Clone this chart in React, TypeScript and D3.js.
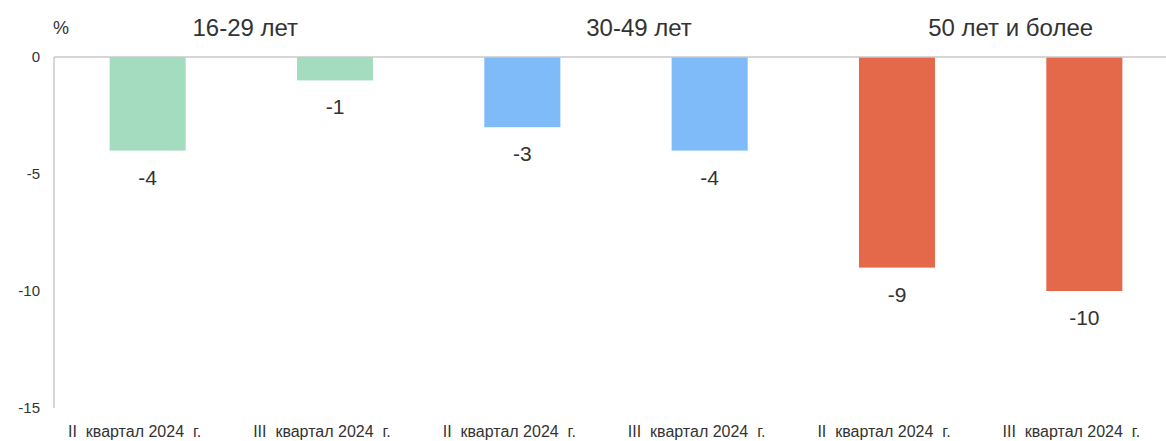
import React from "react";
import * as d3 from "d3";

const categories = [
  "II  квартал 2024  г.",
  "III  квартал 2024  г.",
  "II  квартал 2024  г.",
  "III  квартал 2024  г.",
  "II  квартал 2024  г.",
  "III  квартал 2024  г.",
];
const values = [-4, -1, -3, -4, -9, -10];
const groups = ["16-29 лет", "30-49 лет", "50 лет и более"];
const groupOf = [0, 0, 1, 1, 2, 2];
const yTicks = [0, -5, -10, -15];

const colors = ["#a3dcbe", "#80bbf9", "#e3694a"];
const groupLabelShift = [4, 23, 20];

export default function App() {
  const W = 1166;
  const H = 441;
  const x0 = 54;
  const x1 = 1178;
  const yTop = 57;
  const yBot = 408;

  const x = d3
    .scaleBand<number>()
    .domain(categories.map((_, i) => i))
    .range([x0, x1])
    .paddingInner(0.594)
    .paddingOuter(0.297);
  const y = d3.scaleLinear().domain([0, -15]).range([yTop, yBot]);

  const font = "'Liberation Sans', Arial, sans-serif";
  const textColor = "#333333";

  return (
    <svg
      width={W}
      height={H}
      style={{ position: "absolute", left: 0, top: 0, background: "#fff" }}
      fontFamily={font}
    >
      <line x1={x0} x2={x0} y1={y(0)} y2={y(-15)} stroke="#c8c8c8" strokeWidth={1.5} />
      {yTicks.map((t) => (
        <text
          key={t}
          x={40}
          y={y(t) + 5}
          textAnchor="end"
          fontSize={15}
          fill={textColor}
        >
          {t}
        </text>
      ))}
      <text x={61} y={34} textAnchor="middle" fontSize={18} fill={textColor}>
        %
      </text>

      {values.map((v, i) => (
        <rect
          key={i}
          x={x(i)}
          y={y(0)}
          width={x.bandwidth()}
          height={y(v) - y(0)}
          fill={colors[groupOf[i]]}
        />
      ))}

      <line x1={x0} x2={W} y1={y(0)} y2={y(0)} stroke="#c8c8c8" strokeWidth={1.5} />

      {values.map((v, i) => (
        <text
          key={i}
          x={(x(i) as number) + x.bandwidth() / 2}
          y={y(v) + 34}
          textAnchor="middle"
          fontSize={21}
          fill={textColor}
        >
          {v}
        </text>
      ))}

      {groups.map((g, gi) => {
        const idx = groupOf
          .map((gg, i) => (gg === gi ? i : -1))
          .filter((i) => i >= 0);
        const cx =
          d3.mean(idx, (i) => (x(i) as number) + x.bandwidth() / 2)! +
          groupLabelShift[gi];
        return (
          <text
            key={g}
            x={cx}
            y={36}
            textAnchor="middle"
            fontSize={24}
            fill={textColor}
          >
            {g}
          </text>
        );
      })}

      {categories.map((c, i) => (
        <text
          key={i}
          x={(x(i) as number) + x.bandwidth() / 2 - 13}
          y={437}
          textAnchor="middle"
          fontSize={16}
          fill={textColor}
          style={{ whiteSpace: "pre" }}
        >
          {c}
        </text>
      ))}
    </svg>
  );
}
